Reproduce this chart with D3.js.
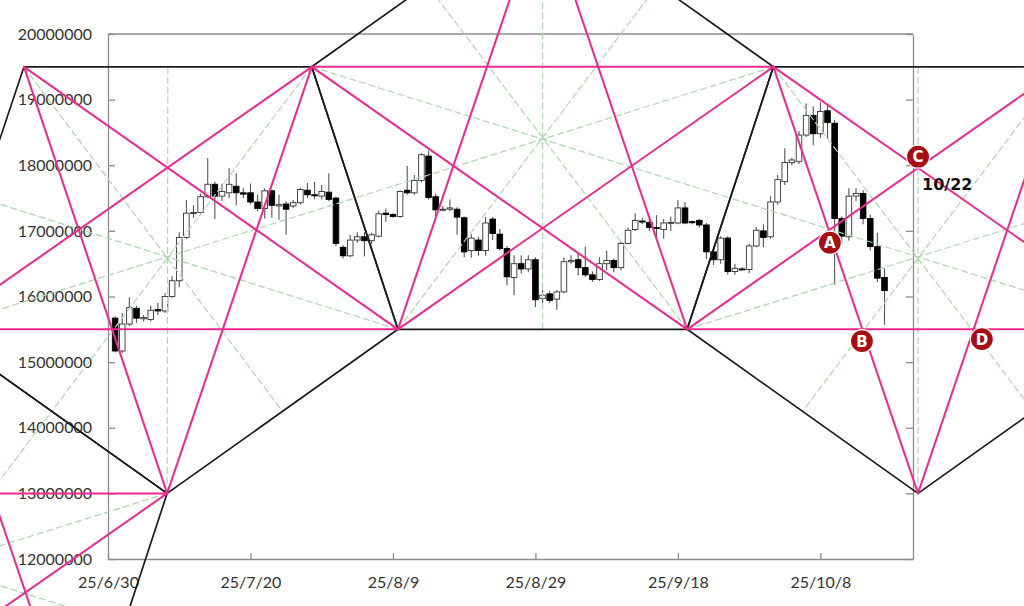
<!DOCTYPE html>
<html><head><meta charset="utf-8">
<script src="https://cdn.jsdelivr.net/npm/d3@7"></script>
<style>html,body{margin:0;padding:0;background:#fff;}svg{display:block;}</style>
</head><body>
<svg id="chart" width="1024" height="606"></svg>
<script>
// ---------- data ----------
const UNIT = 1e6; // prices below are in millions of JPY
const dates = [
"2025-07-01","2025-07-02","2025-07-03","2025-07-04","2025-07-05","2025-07-06","2025-07-07","2025-07-08","2025-07-09","2025-07-10",
"2025-07-11","2025-07-12","2025-07-13","2025-07-14","2025-07-15","2025-07-16","2025-07-17","2025-07-18","2025-07-19","2025-07-20",
"2025-07-21","2025-07-22","2025-07-23","2025-07-24","2025-07-25","2025-07-26","2025-07-27","2025-07-28","2025-07-29","2025-07-30",
"2025-07-31","2025-08-01","2025-08-02","2025-08-03","2025-08-04","2025-08-05","2025-08-06","2025-08-07","2025-08-08","2025-08-09",
"2025-08-10","2025-08-11","2025-08-12","2025-08-13","2025-08-14","2025-08-15","2025-08-16","2025-08-17","2025-08-18","2025-08-19",
"2025-08-20","2025-08-21","2025-08-22","2025-08-23","2025-08-24","2025-08-25","2025-08-26","2025-08-27","2025-08-28","2025-08-29",
"2025-08-30","2025-08-31","2025-09-01","2025-09-02","2025-09-03","2025-09-04","2025-09-05","2025-09-06","2025-09-07","2025-09-08",
"2025-09-09","2025-09-10","2025-09-11","2025-09-12","2025-09-13","2025-09-14","2025-09-15","2025-09-16","2025-09-17","2025-09-18",
"2025-09-19","2025-09-20","2025-09-21","2025-09-22","2025-09-23","2025-09-24","2025-09-25","2025-09-26","2025-09-27","2025-09-28",
"2025-09-29","2025-09-30","2025-10-01","2025-10-02","2025-10-03","2025-10-04","2025-10-05","2025-10-06","2025-10-07","2025-10-08",
"2025-10-09","2025-10-10","2025-10-11","2025-10-12","2025-10-13","2025-10-14","2025-10-15","2025-10-16","2025-10-17"];
const opens = [
15.67,15.17,15.58,15.82,15.66,15.65,15.80,15.78,16.00,16.24,
16.90,17.27,17.28,17.52,17.71,17.53,17.58,17.68,17.58,17.58,
17.44,17.34,17.61,17.38,17.41,17.38,17.43,17.62,17.55,17.53,
17.59,17.50,16.75,16.62,16.86,16.91,16.85,16.92,17.27,17.25,
17.22,17.62,17.58,17.77,18.14,17.52,17.32,17.33,17.33,17.20,
16.70,16.86,16.70,17.18,16.95,16.73,16.29,16.50,16.42,16.56,
15.97,16.04,15.96,16.07,16.53,16.56,16.44,16.33,16.26,16.50,
16.55,16.44,16.81,17.02,17.15,17.13,17.05,17.02,17.12,17.12,
17.35,17.14,17.16,17.09,16.68,16.56,16.89,16.38,16.42,16.41,
16.77,17.00,16.91,17.44,17.75,18.04,18.06,18.46,18.76,18.48,
18.83,18.64,17.19,16.91,17.53,17.57,17.19,16.76,16.29];
const highs = [
15.70,15.75,15.99,15.86,15.72,15.86,15.90,16.05,16.31,16.98,
17.47,17.39,17.57,18.11,17.75,17.72,17.96,17.88,17.65,17.72,
17.55,17.65,17.63,17.55,17.45,17.47,17.66,17.73,17.75,17.70,
17.88,17.52,16.78,16.94,16.98,16.98,16.97,17.31,17.34,17.27,
17.62,17.99,17.85,18.18,18.22,17.57,17.38,17.48,17.36,17.22,
16.95,16.91,17.21,17.21,17.03,16.77,16.63,16.63,16.63,16.60,
16.10,16.08,16.10,16.60,16.63,16.68,16.76,16.38,16.60,16.70,
16.58,16.84,17.05,17.27,17.20,17.20,17.24,17.18,17.22,17.47,
17.44,17.16,17.18,17.12,16.76,16.92,16.92,16.50,16.45,16.80,
17.06,17.10,17.53,17.85,18.26,18.12,18.52,18.94,18.90,18.96,
18.93,18.69,17.22,17.65,17.65,17.62,17.25,16.97,16.43];
const lows = [
15.15,15.14,15.55,15.60,15.62,15.62,15.72,15.75,15.98,16.14,
16.88,17.20,17.25,17.50,17.18,17.45,17.50,17.39,17.50,17.40,
17.30,17.19,17.20,17.17,16.94,17.35,17.40,17.50,17.48,17.48,
17.45,16.77,16.58,16.60,16.82,16.61,16.80,16.90,17.14,17.20,
17.20,17.55,17.55,17.74,17.48,17.21,17.30,17.30,16.94,16.60,
16.59,16.62,16.62,16.86,16.70,16.17,16.02,16.35,16.37,15.84,
15.90,15.90,15.80,16.05,16.50,16.32,16.30,16.22,16.24,16.40,
16.37,16.40,16.80,17.00,17.10,17.00,16.90,16.88,17.00,17.10,
17.10,17.10,17.05,16.57,16.48,16.50,16.33,16.33,16.40,16.35,
16.75,16.75,16.88,17.40,17.70,18.00,18.02,18.43,18.30,18.42,
18.40,16.18,16.80,16.85,17.45,17.10,16.70,16.22,15.57];
const closes = [
15.17,15.58,15.83,15.67,15.68,15.79,15.78,16.00,16.24,16.90,
17.27,17.28,17.52,17.71,17.53,17.60,17.71,17.58,17.56,17.44,
17.34,17.61,17.39,17.40,17.33,17.43,17.63,17.55,17.54,17.60,
17.48,16.81,16.62,16.86,16.91,16.85,16.94,17.26,17.25,17.22,
17.60,17.58,17.77,18.16,17.51,17.32,17.33,17.35,17.21,16.68,
16.89,16.70,17.12,16.96,16.73,16.30,16.50,16.42,16.56,15.95,
16.02,15.94,16.07,16.53,16.55,16.44,16.33,16.26,16.50,16.55,
16.44,16.81,17.01,17.16,17.14,17.05,17.04,17.12,17.13,17.35,
17.12,17.14,17.09,16.68,16.56,16.89,16.38,16.43,16.42,16.77,
17.01,16.90,17.44,17.78,18.04,18.08,18.46,18.76,18.48,18.82,
18.65,17.19,16.92,17.53,17.57,17.19,16.76,16.28,16.09];

const xDomain = ["2025-06-30", "2025-10-21"];
const yDomain = [12, 20];
const xTickDates = ["2025-06-30","2025-07-20","2025-08-09","2025-08-29","2025-09-18","2025-10-08"];
const yTicks = [12, 13, 14, 15, 16, 17, 18, 19, 20];

// pentagon vertices (date, price in millions), listed in order round each pentagon
const pentLowerLeft = [["2025-06-05T21:36",15.5],["2025-07-08T07:12",13.0],["2025-06-26T04:48",9.0],["2025-05-16T14:24",9.0],["2025-05-04T12:00",13.0]];
const pentLeft      = [["2025-07-08T07:12",13.0],["2025-08-09T16:48",15.5],["2025-07-28T14:24",19.5],["2025-06-18T05:00",19.5],["2025-06-05T21:36",15.5]];
const pentMiddle    = [["2025-08-30T00:00",22.0],["2025-10-01T09:36",19.5],["2025-09-19T07:12",15.5],["2025-08-09T16:48",15.5],["2025-07-28T14:24",19.5]];
const pentRight     = [["2025-10-21T16:48",13.0],["2025-11-23T02:24",15.5],["2025-11-11T00:00",19.5],["2025-10-01T09:36",19.5],["2025-09-19T07:12",15.5]];

const markerLabels = ["A","B","C","D"];
const markerDates  = ["2025-10-09T08:00","2025-10-13T20:00","2025-10-21T17:00","2025-10-30T16:00"];
const markerPrices = [16.82, 15.32, 18.13, 15.35];
const noteText = "10/22";

// ---------- drawing ----------
const svg = d3.select("#chart");
const L = 108, R = 913, T = 34, B = 559;
const parseDay = d3.timeParse("%Y-%m-%d");
const parseTime = d3.timeParse("%Y-%m-%dT%H:%M");
const x = d3.scaleTime().domain(xDomain.map(parseDay)).range([L, R]);
const y = d3.scaleLinear().domain(yDomain.map(v => v * UNIT)).range([B, T]);
const axisColor = "#8c8c8c";
const fontFam = "Lato, 'Open Sans', sans-serif";

// frame
svg.append("line").attr("x1", L).attr("x2", R).attr("y1", T).attr("y2", T)
  .attr("stroke", axisColor).attr("stroke-width", 1.3);

const yAxis = svg.append("g").attr("transform", `translate(${L},0)`)
  .call(d3.axisLeft(y).tickValues(yTicks.map(v => v * UNIT)).tickFormat(d3.format("d"))
    .tickSizeInner(-7).tickSizeOuter(0).tickPadding(16));
const yAxisR = svg.append("g").attr("transform", `translate(${R},0)`)
  .call(d3.axisRight(y).tickValues(yTicks.map(v => v * UNIT)).tickFormat("")
    .tickSizeInner(-7).tickSizeOuter(0));
const xAxis = svg.append("g").attr("transform", `translate(0,${B})`)
  .call(d3.axisBottom(x).tickValues(xTickDates.map(parseDay)).tickFormat(d3.timeFormat("%y/%-m/%-d"))
    .tickSizeInner(-6).tickSizeOuter(0).tickPadding(18));
[yAxis, yAxisR, xAxis].forEach(g => {
  g.attr("font-family", fontFam).attr("font-size", 16);
  g.selectAll("path, line").attr("stroke", axisColor).attr("stroke-width", 1.3);
  g.selectAll("text").attr("fill", "#333");
});

// candles
const candles = dates.map((d, i) => ({
  date: parseDay(d), o: opens[i] * UNIT, h: highs[i] * UNIT, l: lows[i] * UNIT, c: closes[i] * UNIT
}));
const bodyW = 5.6;
const cg = svg.append("g");
cg.selectAll("line.wick").data(candles).join("line").attr("class", "wick")
  .attr("x1", d => x(d.date)).attr("x2", d => x(d.date))
  .attr("y1", d => y(d.h)).attr("y2", d => y(d.l))
  .attr("stroke", "#555").attr("stroke-width", 1.1);
cg.selectAll("rect.body").data(candles).join("rect").attr("class", "body")
  .attr("x", d => x(d.date) - bodyW / 2).attr("width", bodyW)
  .attr("y", d => y(Math.max(d.o, d.c)))
  .attr("height", d => Math.max(1, Math.abs(y(d.o) - y(d.c))))
  .attr("fill", d => d.c > d.o ? "#fff" : "#000")
  .attr("stroke", d => d.c > d.o ? "#333" : "#000").attr("stroke-width", 0.9);

// geometric overlay
const pentagons = [pentLowerLeft, pentLeft, pentMiddle, pentRight];
const toPx = v => [x(parseTime(v[0])), y(v[1] * UNIT)];
const og = svg.append("g");
const seg = (a, b, color, w, dash) => og.append("line")
  .attr("x1", a[0]).attr("y1", a[1]).attr("x2", b[0]).attr("y2", b[1])
  .attr("stroke", color).attr("stroke-width", w).attr("stroke-dasharray", dash || null)
  .attr("stroke-linecap", "round");
const pxPents = pentagons.map(p => p.map(toPx));
pxPents.forEach(P => {
  for (let i = 0; i < 5; i++) {
    const a = P[(i + 2) % 5], b = P[(i + 3) % 5];
    seg(P[i], [(a[0] + b[0]) / 2, (a[1] + b[1]) / 2], "#acd9ac", 1.2, "6,4");
  }
});
pxPents.forEach(P => { for (let i = 0; i < 5; i++) seg(P[i], P[(i + 1) % 5], "#1c1c1c", 1.7); });
pxPents.forEach(P => { for (let i = 0; i < 5; i++) seg(P[i], P[(i + 2) % 5], "#ec2a8c", 2); });

// markers
const mg = svg.append("g");
markerLabels.forEach((lab, i) => {
  const cx = x(parseTime(markerDates[i])), cy = y(markerPrices[i] * UNIT);
  mg.append("circle").attr("cx", cx).attr("cy", cy).attr("r", 11.5)
    .attr("fill", "#a50f14").attr("stroke", "#fff").attr("stroke-width", 1.2);
  mg.append("text").attr("x", cx).attr("y", cy).attr("dy", "0.36em")
    .attr("text-anchor", "middle").attr("fill", "#fff")
    .attr("font-family", "'DejaVu Sans', sans-serif").attr("font-weight", "bold").attr("font-size", 15)
    .text(lab);
  if (lab === "C") {
    mg.append("text").attr("x", cx + 4).attr("y", cy + 33)
      .attr("fill", "#111").attr("font-family", "'DejaVu Sans', sans-serif")
      .attr("font-weight", "bold").attr("font-size", 16).text(noteText);
  }
});
</script>
</body></html>
